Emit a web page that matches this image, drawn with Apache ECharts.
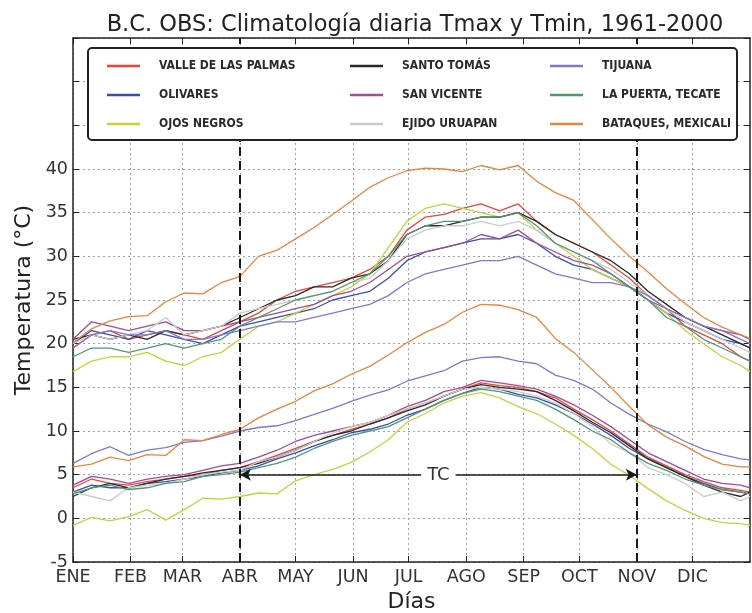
<!DOCTYPE html>
<html><head><meta charset="utf-8">
<script src="https://cdn.jsdelivr.net/npm/echarts@6/dist/echarts.min.js"></script>
<style>html,body{margin:0;padding:0;background:#fff}#c{width:752px;height:613px}</style>
</head><body><div id="c"></div>
<script>
// ---- data ----
const monthLabels = ['ENE','FEB','MAR','ABR','MAY','JUN','JUL','AGO','SEP','OCT','NOV','DIC'];
const monthStarts = [0,31,59,90,120,151,181,212,243,273,304,334];
const yTicks = [-5,0,5,10,15,20,25,30,35,40];
const tcStart = 90, tcEnd = 304, tcLevel = 5;

const days = [0,10,20,30,40,50,60,70,80,90,100,110,120,130,140,150,160,170,180,190,200,210,220,230,240,250,260,270,280,290,300,310,320,330,340,350,360,365];

const stationNames = ['VALLE DE LAS PALMAS','OLIVARES','OJOS NEGROS','SANTO TOMÁS','SAN VICENTE','EJIDO URUAPAN','TIJUANA','LA PUERTA, TECATE','BATAQUES, MEXICALI'];

const valleTmax   = [19.5,21.0,21.5,20.5,21.0,21.5,21.0,20.5,21.5,22.5,23.5,25.0,26.0,26.5,27.0,27.5,28.5,30.0,33.0,34.5,34.8,35.5,36.0,35.2,36.0,34.0,32.5,31.5,30.5,29.0,27.5,25.5,24.0,22.0,21.0,20.0,18.5,18.0];
const olivaresTmax= [20.0,21.5,21.0,20.5,21.5,21.0,20.5,20.0,21.0,22.0,22.5,23.0,23.5,24.0,25.0,25.5,26.0,27.5,29.5,30.5,31.0,31.5,32.0,32.0,32.5,31.5,30.0,29.0,28.5,27.5,26.5,25.0,23.5,22.5,21.5,20.5,20.0,19.5];
const ojosTmax    = [16.8,18.0,18.5,18.5,19.0,18.0,17.5,18.5,19.0,20.5,22.0,22.5,23.5,24.5,25.5,26.5,28.0,31.0,34.0,35.5,36.0,35.5,35.0,34.5,35.0,33.0,31.5,30.0,28.5,27.5,26.5,25.0,23.5,21.5,20.0,18.5,17.5,16.8];
const santoTmax   = [20.5,21.0,20.5,21.0,20.5,21.5,21.0,21.5,22.0,23.0,24.0,25.0,25.5,26.5,26.5,27.5,28.0,29.5,32.5,33.5,33.5,34.0,34.5,34.5,35.0,34.0,32.5,31.5,30.5,29.5,28.0,26.0,24.5,23.0,22.0,21.0,20.0,19.5];
const vicenteTmax = [20.5,22.5,22.0,21.5,22.0,22.5,21.5,21.5,22.0,22.5,23.0,23.5,24.0,24.5,25.5,26.0,27.0,28.5,30.0,30.5,31.0,31.5,32.5,32.0,33.0,31.5,30.5,29.5,29.0,28.0,26.5,25.0,24.0,23.0,22.0,21.5,21.0,20.5];
const ejidoTmax   = [20.0,21.0,20.5,21.0,21.5,23.0,21.0,21.5,22.0,23.5,24.0,24.5,25.0,25.5,26.0,27.0,27.5,29.5,32.0,33.0,33.5,33.5,34.0,33.5,34.0,33.0,31.5,30.5,29.5,28.5,27.0,25.5,24.0,22.5,21.5,20.5,19.5,19.0];
const tijuanaTmax = [19.5,21.0,21.5,21.0,21.0,21.5,20.5,20.5,21.0,21.5,22.0,22.5,22.5,23.0,23.5,24.0,24.5,25.5,27.0,28.0,28.5,29.0,29.5,29.5,30.0,29.0,28.0,27.5,27.0,27.0,26.5,25.5,24.0,23.0,22.0,21.5,20.5,20.0];
const puertaTmax  = [18.5,19.5,19.5,19.0,19.5,20.0,19.5,20.0,20.5,22.0,23.0,24.0,25.0,25.5,26.0,27.0,28.0,30.0,32.5,33.5,34.0,34.0,34.5,34.5,35.0,33.5,31.5,30.5,29.5,28.0,26.5,25.0,23.0,22.0,20.5,19.5,18.5,18.0];
const bataquesTmax= [20.1,21.7,22.6,23.1,23.2,24.8,25.8,25.7,27.0,27.7,30.0,30.7,32.0,33.3,34.8,36.3,37.9,39.0,39.8,40.1,40.0,39.7,40.4,39.9,40.4,38.6,37.3,36.4,34.2,32.0,30.0,28.2,26.3,24.6,23.0,21.9,21.0,20.6];

const valleTmin   = [3.5,4.5,4.0,3.8,4.2,4.5,4.8,5.0,5.5,5.8,6.5,7.2,8.0,8.8,9.5,10.2,10.8,11.5,12.5,13.2,14.0,14.8,15.5,15.2,15.0,14.5,13.8,12.5,11.3,10.0,8.5,7.0,6.0,5.0,4.2,3.5,3.2,3.0];
const olivaresTmin= [3.0,3.8,3.5,3.5,4.0,4.2,4.5,4.8,5.2,5.5,6.0,6.8,7.5,8.3,9.0,9.8,10.2,10.8,11.8,12.5,13.5,14.3,15.0,14.8,14.2,13.8,13.0,12.0,10.8,9.5,8.0,6.8,5.8,4.8,4.0,3.3,3.0,2.8];
const ojosTmin    = [-0.8,0.1,-0.3,0.2,1.0,-0.2,1.0,2.3,2.2,2.5,2.9,2.8,4.3,5.0,5.6,6.4,7.6,9.0,11.0,12.0,13.2,14.0,14.4,13.8,12.8,12.0,10.8,9.5,8.0,6.2,4.9,3.4,2.0,0.9,0.0,-0.5,-0.6,-0.8];
const santoTmin   = [2.5,3.5,4.0,3.5,4.0,4.5,4.8,5.2,5.5,5.8,6.3,7.0,7.8,8.8,9.5,10.0,10.8,11.5,12.3,13.0,14.0,14.8,15.3,15.0,14.8,14.5,13.5,12.3,11.0,9.8,8.3,6.8,5.8,4.8,3.8,3.0,2.5,3.0];
const vicenteTmin = [3.8,4.8,4.5,4.0,4.5,4.8,5.0,5.5,6.0,6.3,7.0,7.8,8.8,9.5,10.0,10.5,11.0,11.8,12.8,13.5,14.5,15.0,15.8,15.5,15.2,14.8,14.0,13.0,11.8,10.5,9.0,7.5,6.5,5.5,4.5,4.0,3.8,3.5];
const ejidoTmin   = [3.0,2.5,2.0,3.5,3.8,4.0,4.5,5.0,5.3,5.5,6.5,7.0,7.8,8.8,9.8,10.5,11.0,11.8,12.5,13.2,14.0,14.8,15.0,14.8,14.5,14.0,13.2,12.0,10.5,8.5,7.5,5.8,5.0,4.0,2.5,3.0,2.0,2.5];
const tijuanaTmin = [6.3,7.4,8.2,7.2,7.8,8.1,8.7,8.9,9.4,10.0,10.4,10.6,11.2,11.9,12.6,13.4,14.1,14.7,15.7,16.3,16.9,18.0,18.4,18.5,18.0,17.7,16.4,15.8,14.8,13.2,11.9,10.8,9.9,8.8,7.9,7.3,6.8,6.7];
const puertaTmin  = [2.8,3.5,3.8,3.3,3.5,4.0,4.2,4.8,5.0,5.3,5.8,6.3,7.0,8.0,8.8,9.5,10.0,10.5,11.5,12.5,13.5,14.3,14.8,14.5,14.0,13.5,12.5,11.3,10.0,9.0,7.5,6.3,5.5,4.5,3.8,3.3,3.0,2.8];
const bataquesTmin= [5.9,6.2,7.0,6.6,7.3,7.2,9.0,8.9,9.6,10.2,11.5,12.5,13.4,14.6,15.4,16.5,17.4,18.7,20.1,21.3,22.2,23.6,24.5,24.4,23.9,23.0,20.6,19.0,17.0,15.0,12.8,10.7,9.3,8.3,7.1,6.2,5.9,5.9];

const stationColors = ['#e8453c','#3550b0','#c5d23c','#2b2b22','#a24b98','#cbcbcb','#7d79d2','#4e9870','#e8843e'];

// ---- build ----
const tmaxAll = [valleTmax,olivaresTmax,ojosTmax,santoTmax,vicenteTmax,ejidoTmax,tijuanaTmax,puertaTmax,bataquesTmax];
const tminAll = [valleTmin,olivaresTmin,ojosTmin,santoTmin,vicenteTmin,ejidoTmin,tijuanaTmin,puertaTmin,bataquesTmin];
const categories = Array.from({length:366},(_,i)=>String(i));
const isMonth = (idx)=> monthStarts.indexOf(idx) >= 0;
const FONT = 'DejaVu Sans';
const LFONT = "'DejaVu Sans Condensed','Liberation Sans Narrow','DejaVu Sans'";

const series = [];
stationNames.forEach((name,i)=>{
  [tmaxAll[i], tminAll[i]].forEach(arr=>{
    series.push({
      name: name, type:'line', xAxisIndex:0, yAxisIndex:0,
      data: days.map((d,k)=>[d, arr[k]]),
      showSymbol:false, symbol:'none', smooth:false,
      lineStyle:{width:1.3, color: stationColors[i]},
      itemStyle:{color: stationColors[i]},
      z:2, emphasis:{disabled:true}
    });
  });
});
// dashed season boundaries
series.push({
  name:'_bounds', type:'line', data:[], xAxisIndex:0, yAxisIndex:0, z:3,
  markLine:{silent:true, symbol:'none', animation:false,
    label:{show:false},
    lineStyle:{color:'#1a1a1a', width:2, type:[9,5]},
    data:[{xAxis:tcStart},{xAxis:tcEnd}]}
});
// TC arrow
series.push({
  name:'_tc', type:'line', data:[], xAxisIndex:0, yAxisIndex:0, z:4,
  markLine:{silent:true, symbol:['arrow','arrow'], symbolSize:[9,11], animation:false,
    lineStyle:{color:'#1a1a1a', width:1.5, type:'solid'},
    label:{show:true, formatter:'TC', position:'middle', distance:-11, fontFamily:FONT, fontSize:18, color:'#333',
      backgroundColor:'#fff', padding:[0,6], lineHeight:20},
    data:[[{coord:[tcStart,tcLevel]},{coord:[tcEnd,tcLevel]}]]}
});

const legendCols = [stationNames.slice(0,3), stationNames.slice(3,6), stationNames.slice(6,9)];
const legendLefts = [102, 345, 545];
const legends = legendCols.map((names,c)=>({
  data: names, orient:'vertical', left: legendLefts[c], top: 54,
  icon:'rect', itemWidth:33, itemHeight:2.5, itemGap:15, z:100,
  selectedMode:false,
  textStyle:{fontFamily:LFONT, fontSize:12, fontWeight:'bold', color:'#2a2a2a', lineHeight:14, padding:[0,0,0,14]}
}));

const chart = echarts.init(document.getElementById('c'), null, {renderer:'canvas'});
chart.setOption({
  animation:false,
  backgroundColor:'#fff',
  title:{text:'B.C. OBS: Climatología diaria Tmax y Tmin, 1961-2000', left:410, top:9, textAlign:'center',
    textStyle:{fontFamily:FONT, fontSize:22.5, fontWeight:'normal', color:'#222'}},
  grid:{left:73, right:2, top:38, bottom:51, containLabel:false, outerBoundsMode:'none'},
  legend: legends,
  graphic:[{type:'rect', z:50, silent:true, shape:{x:88,y:48,width:649,height:92,r:4},
    style:{fill:'#fff', stroke:'#222', lineWidth:2}}],
  xAxis:[{
    type:'category', data:categories, boundaryGap:false, position:'bottom',
    name:'Días', nameLocation:'middle', nameGap:27,
    nameTextStyle:{fontFamily:FONT, fontSize:22, color:'#222'},
    axisLine:{show:true, onZero:false, lineStyle:{color:'#222', width:1.5}},
    axisTick:{show:true, inside:true, length:6, interval:(i)=>isMonth(i), lineStyle:{color:'#222'}},
    axisLabel:{show:true, interval:(i)=>isMonth(i), margin:6, fontFamily:FONT, fontSize:17.5, color:'#333',
      formatter:(v)=>{const k=monthStarts.indexOf(Number(v)); return k>=0?monthLabels[k]:'';}},
    splitLine:{show:true, interval:(i)=>isMonth(i), lineStyle:{color:'#a0a0a0', type:[2,3], width:1}}
  },{
    type:'category', data:categories, boundaryGap:false, position:'top',
    axisLine:{show:true, onZero:false, lineStyle:{color:'#222', width:1.5}},
    axisTick:{show:true, inside:true, length:6, interval:(i)=>isMonth(i), lineStyle:{color:'#222'}},
    axisLabel:{show:false}, splitLine:{show:false}
  }],
  yAxis:[{
    type:'value', min:-5, max:55, interval:5, position:'left',
    name:'Temperatura (°C)', nameLocation:'middle', nameGap:31,
    nameTextStyle:{fontFamily:FONT, fontSize:22, color:'#222'},
    axisLine:{show:true, onZero:false, lineStyle:{color:'#222', width:1.5}},
    axisTick:{show:true, inside:true, length:6, lineStyle:{color:'#222'}},
    axisLabel:{margin:5, fontFamily:FONT, fontSize:17.5, color:'#333',
      formatter:(v)=> yTicks.indexOf(v)>=0 ? String(v) : ''},
    splitLine:{show:true, lineStyle:{color:'#a0a0a0', type:[2,3], width:1}}
  },{
    type:'value', min:-5, max:55, interval:5, position:'right',
    axisLine:{show:true, onZero:false, lineStyle:{color:'#222', width:1.5}},
    axisTick:{show:true, inside:true, length:6, lineStyle:{color:'#222'}},
    axisLabel:{show:false}, splitLine:{show:false}
  }],
  tooltip:{show:false},
  series: series
});
</script></body></html>
